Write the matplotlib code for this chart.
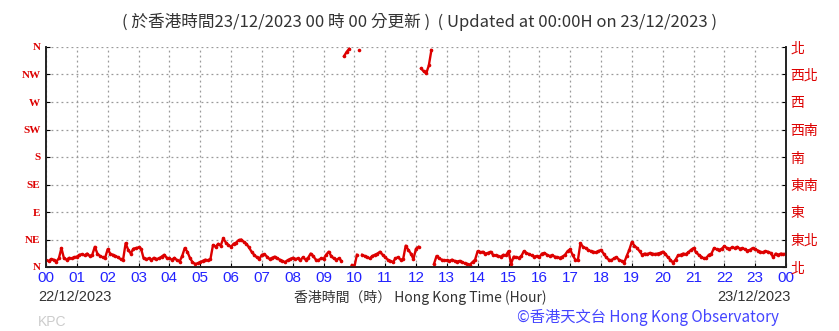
import numpy as np
import matplotlib
matplotlib.use('Agg')
from matplotlib import pyplot as plt

# wind direction (degrees) every 5 minutes, one row per hour
wind_dir = [
    [11, 10, 13, 12, 9, 14, 31, 14, 12, 15, 14, 16],
    [17, 20, 21, 19, 22, 18, 20, 33, 22, 18, 16, 15],
    [29, 22, 20, 18, 16, 13, 12, 39, 28, 22, 30, 31],
    [32, 30, 14, 13, 14, 12, 15, 13, 14, 17, 20, 15],
    [14, 12, 15, 11, 9, 18, 31, 25, 15, 8, 5, 6],
    [8, 10, 12, 11, 13, 36, 33, 38, 35, 47, 40, 36],
    [33, 38, 40, 44, 45, 41, 38, 32, 25, 20, 16, 13],
    [20, 21, 17, 13, 15, 17, 14, 12, 10, 8, 11, 13],
    [15, 13, 14, 11, 16, 12, 15, 22, 18, 12, 11, 14],
    [13, 20, 25, 18, 14, 12, 14, 10, 345, 352, 357, 3],
    [0, 20, 355, 20, 18, 16, 14, 18, 20, 22, 25, 20],
    [16, 12, 10, 8, 14, 16, 12, 13, 35, 28, 22, 13],
    [30, 33, 325, 320, 317, 330, 355, 5, 18, 14, 12, 11],
    [11, 10, 12, 10, 9, 10, 8, 6, 5, 4, 8, 12],
    [26, 24, 25, 22, 23, 25, 20, 19, 18, 17, 20, 19],
    [26, 5, 17, 16, 15, 18, 26, 23, 21, 19, 17, 18],
    [16, 22, 23, 20, 18, 19, 17, 16, 15, 17, 20, 26],
    [29, 19, 12, 11, 39, 33, 31, 28, 26, 25, 24, 26],
    [28, 22, 16, 12, 11, 14, 16, 12, 10, 7, 18, 28],
    [41, 35, 31, 26, 20, 22, 21, 23, 22, 21, 22, 23],
    [25, 22, 16, 12, 7, 12, 19, 20, 22, 21, 24, 28],
    [31, 24, 20, 17, 14, 15, 20, 22, 31, 29, 28, 30],
    [34, 31, 30, 32, 31, 33, 30, 31, 29, 27, 28, 31],
    [29, 27, 25, 24, 26, 25, 23, 16, 22, 20, 22, 21],
]
last_dir = 22

hour_labels = ['00', '01', '02', '03', '04', '05', '06', '07', '08', '09', '10', '11',
               '12', '13', '14', '15', '16', '17', '18', '19', '20', '21', '22', '23', '00']
dir_en = ['N', 'NE', 'E', 'SE', 'S', 'SW', 'W', 'NW', 'N']
dir_zh = ['北', '東北', '東', '東南', '南', '西南', '西', '西北', '北']

cjk = ['Noto Sans CJK TC', 'DejaVu Sans']

y = np.array([v for row in wind_dir for v in row] + [last_dir], dtype=float)
x = np.arange(len(y)) / 12.0

# break the line where direction wraps round north (insert a gap, keep points)
cut = np.where(np.abs(np.diff(y)) > 180)[0] + 1
xl = np.insert(x, cut, np.nan)
yl = np.insert(y, cut, np.nan)

fig = plt.figure(figsize=(8.39, 3.31), dpi=100)
ax = fig.add_axes([46 / 839, 64 / 331, 740 / 839, 220 / 331])

ax.plot(xl, yl, color='#dd0000', lw=1.7, zorder=3)
ax.plot(x, y, ls='none', marker='o', ms=2.6, color='#dd0000', mec='none', zorder=3)

ax.set_xlim(0, 24)
ax.set_ylim(0, 360)
ax.set_xticks(np.arange(25))
ax.set_xticklabels(hour_labels, color='#2222ff', fontsize=11, family='Liberation Sans')
ax.set_yticks(np.arange(0, 361, 45))
ax.set_yticklabels(dir_en, color='#dd0000', fontsize=8, family='Liberation Serif',
                   fontweight='bold')
ax.tick_params(axis='x', direction='in', length=3, pad=3)
ax.tick_params(axis='y', direction='in', length=3, pad=4)

ax2 = ax.twinx()
ax2.set_ylim(0, 360)
ax2.set_yticks(np.arange(0, 361, 45))
ax2.set_yticklabels(dir_zh, color='#dd0000', fontsize=10, family=cjk)
ax2.tick_params(axis='y', direction='in', length=3, pad=3)

ax.grid(True, color='#999999', ls=(0, (1.5, 2.5)), lw=0.9)
for a in (ax, ax2):
    a.spines['top'].set_visible(False)
    for s in ('left', 'right', 'bottom'):
        a.spines[s].set_linewidth(1.2)
        a.spines[s].set_color('#222222')

fig.text(0.5, 1 - 22 / 331,
         '( 於香港時間23/12/2023 00 時 00 分更新 )  ( Updated at 00:00H on 23/12/2023 )',
         ha='center', va='center', fontsize=12, color='#333333', family=cjk)
fig.text(38 / 839, 1 - 297 / 331, '22/12/2023', ha='left', va='center',
         fontsize=10.5, color='#333333', family='Liberation Sans')
fig.text(791 / 839, 1 - 297 / 331, '23/12/2023', ha='right', va='center',
         fontsize=10.5, color='#333333', family='Liberation Sans')
fig.text(420 / 839, 1 - 297 / 331, '香港時間（時） Hong Kong Time (Hour)', ha='center',
         va='center', fontsize=10, color='#333333', family=cjk)
fig.text(38 / 839, 1 - 322 / 331, 'KPC', ha='left', va='center',
         fontsize=10, color='#cccccc', family='Liberation Sans')
fig.text(779 / 839, 1 - 317 / 331, '©香港天文台 Hong Kong Observatory', ha='right',
         va='center', fontsize=11, color='#4444ff', family=cjk)

fig.savefig('out.png', dpi=100)
